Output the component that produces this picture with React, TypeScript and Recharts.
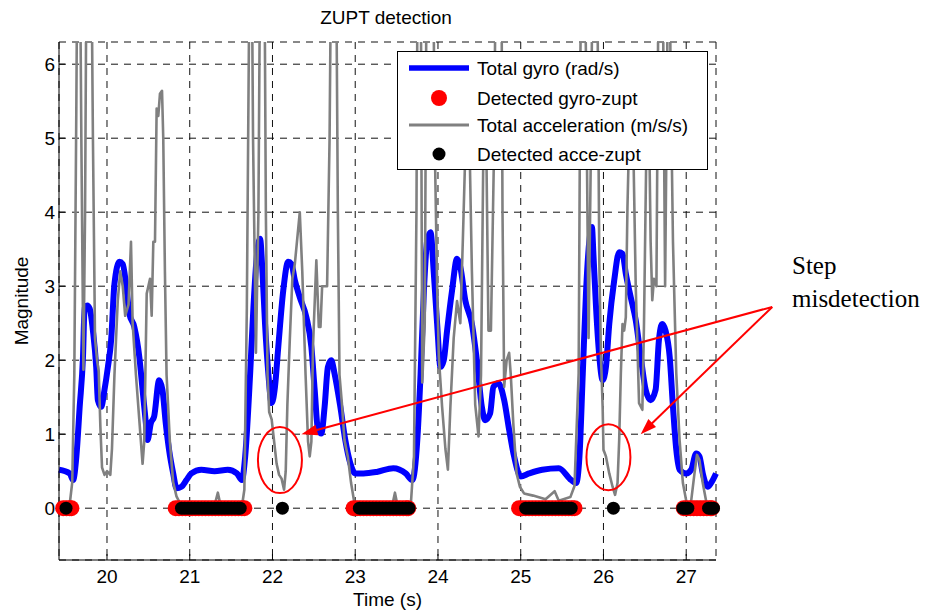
import {
  ComposedChart,
  Line,
  Scatter,
  XAxis,
  YAxis,
  CartesianGrid,
  Legend,
  ReferenceLine,
  ReferenceDot,
} from 'recharts'

// [time (s), magnitude]
const gyroSamples: [number, number][] = [
  [19.42, 0.52], [19.55, 0.47], [19.59, 0.38], [19.63, 0.7], [19.67, 1.37], [19.71, 2.05], [19.73, 2.72], [19.76, 2.74],
  [19.79, 2.7], [19.83, 2.4], [19.87, 1.9], [19.89, 1.46], [19.93, 1.37], [19.97, 1.6], [20.01, 1.9], [20.05, 2.27],
  [20.09, 3.03], [20.15, 3.33], [20.19, 3.3], [20.23, 3.03], [20.27, 2.63], [20.33, 2.45], [20.39, 2.05], [20.43, 1.6],
  [20.47, 1.15], [20.49, 0.92], [20.53, 1.15], [20.57, 1.24], [20.63, 1.73], [20.67, 1.6], [20.71, 1.15], [20.75, 0.79],
  [20.8, 0.47], [20.84, 0.27], [20.9, 0.29], [20.96, 0.38], [21.02, 0.47], [21.14, 0.52], [21.3, 0.5], [21.46, 0.52],
  [21.57, 0.47], [21.63, 0.38], [21.67, 0.7], [21.73, 1.82], [21.77, 2.72], [21.81, 3.4], [21.85, 3.64], [21.88, 3.17],
  [21.91, 2.49], [21.95, 1.82], [21.99, 1.42], [22.03, 1.64], [22.07, 2.18], [22.13, 2.94], [22.19, 3.33], [22.23, 3.3],
  [22.27, 3.08], [22.33, 2.85], [22.41, 2.58], [22.47, 2.18], [22.51, 1.6], [22.55, 1.06], [22.59, 1.01], [22.63, 1.37],
  [22.67, 1.91], [22.71, 2.0], [22.75, 1.82], [22.82, 1.37], [22.88, 0.92], [22.94, 0.61], [23.0, 0.47], [23.1, 0.47],
  [23.26, 0.49], [23.46, 0.54], [23.61, 0.47], [23.69, 0.38], [23.75, 0.92], [23.79, 1.82], [23.83, 2.94], [23.87, 3.62],
  [23.91, 3.73], [23.95, 3.17], [23.99, 2.49], [24.03, 1.91], [24.07, 2.0], [24.11, 2.4], [24.17, 2.94], [24.23, 3.37],
  [24.27, 3.26], [24.33, 2.81], [24.41, 2.49], [24.47, 2.0], [24.53, 1.37], [24.57, 1.19], [24.63, 1.28], [24.67, 1.64],
  [24.73, 1.69], [24.8, 1.46], [24.86, 1.06], [24.92, 0.7], [25.0, 0.43], [25.1, 0.47], [25.26, 0.52], [25.46, 0.54],
  [25.61, 0.38], [25.67, 0.34], [25.71, 0.7], [25.75, 1.82], [25.79, 2.94], [25.83, 3.62], [25.86, 3.8], [25.88, 3.4],
  [25.91, 2.72], [25.95, 2.05], [25.99, 1.73], [26.03, 1.91], [26.07, 2.49], [26.13, 3.08], [26.19, 3.46], [26.23, 3.44],
  [26.27, 3.17], [26.33, 2.85], [26.39, 2.54], [26.45, 2.05], [26.51, 1.6], [26.57, 1.46], [26.63, 1.6], [26.67, 2.27],
  [26.71, 2.49], [26.75, 2.4], [26.8, 2.05], [26.84, 1.37], [26.88, 0.79], [26.92, 0.52], [27.0, 0.47], [27.06, 0.52],
  [27.12, 0.74], [27.16, 0.7], [27.2, 0.47], [27.26, 0.29], [27.3, 0.34], [27.36, 0.47],
]

// peaks above the axis top are clipped, as in the original figure
const accSamples: [number, number][] = [
  [19.42, 0.02], [19.5, 0.03], [19.55, 0.06], [19.58, 0.35], [19.605, 1.8], [19.63, 5.5], [19.65, 9], [19.67, 8],
  [19.69, 5], [19.715, 1.87], [19.735, 4], [19.76, 9], [19.8, 9], [19.83, 5], [19.855, 2.3], [19.88, 2.0],
  [19.9, 1.85], [19.92, 1.1], [19.94, 0.55], [19.97, 0.45], [20.0, 0.5], [20.04, 0.45], [20.06, 0.8], [20.09, 1.8],
  [20.13, 2.8], [20.16, 3.2], [20.19, 3.0], [20.22, 2.6], [20.26, 2.75], [20.29, 3.6], [20.31, 2.5], [20.35, 1.8],
  [20.39, 1.2], [20.43, 0.6], [20.45, 0.9], [20.48, 2.9], [20.5, 3.0], [20.52, 3.1], [20.54, 2.6], [20.56, 3.6],
  [20.58, 3.6], [20.6, 5.4], [20.62, 5.3], [20.64, 5.6], [20.665, 5.64], [20.68, 5.0], [20.7, 3.2], [20.72, 1.8],
  [20.76, 0.9], [20.8, 0.35], [20.84, 0.16], [20.9, 0.03], [21.0, 0], [21.2, 0.02], [21.3, 0.04], [21.34, 0.21],
  [21.37, 0.05], [21.5, 0.03], [21.63, 0.02], [21.66, 0.25], [21.69, 2.7], [21.72, 7], [21.74, 9], [21.765, 5],
  [21.8, 2.1], [21.83, 4], [21.86, 9], [21.9, 8], [21.92, 4], [21.94, 1.8], [21.96, 1.3], [21.99, 1.2],
  [22.02, 0.9], [22.05, 0.6], [22.08, 0.45], [22.11, 0.4], [22.14, 0.25], [22.16, 0.5], [22.18, 1.4], [22.21, 2.3],
  [22.24, 3.1], [22.27, 3.3], [22.33, 4.0], [22.36, 3.2], [22.4, 1.8], [22.43, 0.9], [22.45, 0.7], [22.47, 0.9],
  [22.49, 2.2], [22.53, 3.35], [22.56, 2.45], [22.58, 2.45], [22.6, 3.0], [22.66, 3.0], [22.69, 5], [22.72, 9],
  [22.76, 9], [22.79, 4], [22.81, 1.8], [22.84, 1.4], [22.87, 0.92], [22.91, 0.7], [22.95, 0.34], [22.99, 0.07],
  [23.02, 0], [23.3, 0.03], [23.45, 0.05], [23.48, 0.21], [23.51, 0.04], [23.67, 0.02], [23.71, 0.7], [23.74, 4],
  [23.76, 9], [23.79, 8], [23.81, 1.7], [23.84, 2.5], [23.87, 9], [23.93, 9], [23.96, 5], [23.99, 3.0],
  [24.01, 2.05], [24.05, 1.37], [24.09, 0.8], [24.12, 0.52], [24.15, 1.37], [24.19, 2.3], [24.23, 2.8], [24.27, 2.5],
  [24.3, 3.6], [24.34, 5.2], [24.37, 5.6], [24.41, 3.2], [24.45, 1.4], [24.49, 0.97], [24.52, 1.8], [24.55, 5.0],
  [24.58, 5.3], [24.61, 2.4], [24.64, 2.4], [24.68, 5], [24.71, 9], [24.76, 9], [24.78, 4], [24.8, 1.64],
  [24.83, 2.0], [24.86, 2.1], [24.88, 1.8], [24.91, 1.15], [24.95, 0.47], [24.99, 0.29], [25.04, 0.2], [25.15, 0.17],
  [25.3, 0.12], [25.41, 0.23], [25.46, 0.1], [25.6, 0.15], [25.65, 0.3], [25.7, 1.82], [25.72, 6], [25.75, 9],
  [25.79, 6], [25.82, 2.3], [25.85, 5], [25.88, 9], [25.92, 8], [25.95, 3.3], [25.97, 2.05], [25.99, 1.37],
  [26.0, 0.79], [26.03, 0.7], [26.07, 0.47], [26.11, 0.29], [26.14, 0.18], [26.17, 0.34], [26.19, 0.92], [26.21, 1.82],
  [26.23, 2.49], [26.25, 2.4], [26.27, 2.58], [26.29, 4.07], [26.32, 5.5], [26.35, 5.6], [26.39, 3.0], [26.43, 1.42],
  [26.47, 1.33], [26.49, 2.5], [26.52, 5.0], [26.55, 5.3], [26.57, 3.6], [26.59, 2.81], [26.61, 3.1], [26.64, 3.0],
  [26.67, 8], [26.7, 9], [26.725, 6], [26.745, 3.0], [26.77, 6], [26.79, 9], [26.81, 6], [26.84, 3.6],
  [26.86, 2.7], [26.88, 1.82], [26.92, 0.92], [26.96, 0.34], [27.0, 0.1], [27.02, 0.02], [27.06, 0.1], [27.1, 0.47],
  [27.13, 0.72], [27.16, 0.65], [27.2, 0.34], [27.24, 0.1], [27.28, 0.02], [27.36, 0.02],
]

// instants flagged as zero-velocity (plotted at 0)
const gyroZuptTimes = [
  19.47, 19.51, 19.55, 19.57,
  20.83, 20.87, 20.91, 20.95, 20.99, 21.03, 21.07, 21.11, 21.15, 21.19, 21.23, 21.27, 21.31, 21.35, 21.39, 21.43,
  21.47, 21.51, 21.55, 21.59, 21.63, 21.66,
  22.98, 23.02, 23.06, 23.1, 23.14, 23.18, 23.22, 23.26, 23.3, 23.34, 23.38, 23.42, 23.46, 23.5, 23.54, 23.58,
  23.62, 23.64,
  24.98, 25.02, 25.06, 25.1, 25.14, 25.18, 25.22, 25.26, 25.3, 25.34, 25.38, 25.42, 25.46, 25.5, 25.54, 25.58,
  25.62, 25.65,
  26.97, 27.01, 27.05, 27.09, 27.13, 27.17, 27.21, 27.25, 27.29, 27.31,
]

const acceZuptTimes = [
  19.505,
  20.9, 20.94, 20.98, 21.02, 21.06, 21.1, 21.14, 21.18, 21.22, 21.26, 21.3, 21.34, 21.38, 21.42, 21.46, 21.5,
  21.54, 21.58, 21.61,
  22.12,
  23.05, 23.09, 23.13, 23.17, 23.21, 23.25, 23.29, 23.33, 23.37, 23.41, 23.45, 23.49, 23.53, 23.57, 23.61, 23.65,
  25.06, 25.1, 25.14, 25.18, 25.22, 25.26, 25.3, 25.34, 25.38, 25.42, 25.46, 25.5, 25.54, 25.58, 25.61,
  26.12,
  26.96, 26.99, 27.02, 27.27, 27.3, 27.33,
]

const timeTicks = [20, 21, 22, 23, 24, 25, 26, 27]
const magTicks = [0, 1, 2, 3, 4, 5, 6]
const timeDomain = [19.42, 27.36]
const magDomain = [-0.7, 6.3]

// "Step misdetection" callout, in data units
const arrowTail = { t: 28.04, v: 2.72 }
const arrowTips = [
  { t: 22.35, v: 1.0 },
  { t: 26.45, v: 1.0 },
]
const missCenters = [
  { t: 22.09, v: 0.65 },
  { t: 26.06, v: 0.69 },
]

const gyroData = gyroSamples.map(([t, v]) => ({ t, v }))
const accData = accSamples.map(([t, v]) => ({ t, v }))
const gyroZupt = gyroZuptTimes.map((t) => ({ t, v: 0 }))
const acceZupt = acceZuptTimes.map((t) => ({ t, v: 0 }))

const SANS = "'Liberation Sans', Arial, Helvetica, sans-serif"
const SERIF = "'Liberation Serif', 'Times New Roman', serif"
const BLUE = '#0000ff'
const RED = '#ff0000'
const GRAY = '#808080'

const legendItems = [
  { label: 'Total gyro (rad/s)', kind: 'line', color: BLUE, size: 5.5 },
  { label: 'Detected gyro-zupt', kind: 'dot', color: RED, size: 8 },
  { label: 'Total acceleration (m/s/s)', kind: 'line', color: GRAY, size: 2.8 },
  { label: 'Detected acce-zupt', kind: 'dot', color: '#000', size: 6.5 },
]

function LegendBox() {
  const rows = [17, 47, 74, 103]
  return (
    <svg width={311} height={119} style={{ display: 'block' }}>
      <rect x={0.5} y={0.5} width={310} height={118} fill="#fff" stroke="#000" strokeWidth={1} />
      {legendItems.map((it, i) => (
        <g key={it.label}>
          {it.kind === 'line' ? (
            <line x1={12} x2={72} y1={rows[i]} y2={rows[i]} stroke={it.color} strokeWidth={it.size} />
          ) : (
            <circle cx={42} cy={rows[i]} r={it.size} fill={it.color} />
          )}
          <text x={80} y={rows[i] + 7} fontSize={19} fontFamily={SANS} fill="#000">
            {it.label}
          </text>
        </g>
      ))}
    </svg>
  )
}

function Arrow(props: any) {
  const { x1, y1, x2, y2 } = props
  const dx = x2 - x1
  const dy = y2 - y1
  const len = Math.sqrt(dx * dx + dy * dy)
  const ux = dx / len
  const uy = dy / len
  const hl = 16
  const hw = 5.5
  const bx = x2 - ux * hl
  const by = y2 - uy * hl
  return (
    <g>
      <line x1={x1} y1={y1} x2={bx + ux * 3} y2={by + uy * 3} stroke={RED} strokeWidth={2} />
      <polygon
        points={`${x2},${y2} ${bx - uy * hw},${by + ux * hw} ${bx + uy * hw},${by - ux * hw}`}
        fill={RED}
      />
    </g>
  )
}

const tickStyle = { fill: '#000', fontSize: 19, fontFamily: SANS }

export default function App() {
  return (
    <div style={{ position: 'relative', width: 936, height: 613, background: '#fff' }}>
      <style>{`body{margin:0;background:#fff}`}</style>
      <ComposedChart width={936} height={613} margin={{ top: 42, right: 220, bottom: 0, left: 0 }}>
        <CartesianGrid strokeDasharray="7 6" stroke="#111" strokeWidth={1} />
        <XAxis
          dataKey="t"
          type="number"
          domain={timeDomain}
          ticks={timeTicks}
          interval={0}
          height={53}
          tickSize={-6}
          tickMargin={16}
          tick={tickStyle}
          stroke="#000"
          label={({ viewBox }: any) => (
            <text
              x={viewBox.x + viewBox.width / 2}
              y={viewBox.y + 46}
              textAnchor="middle"
              fontSize={19}
              fontFamily={SANS}
              fill="#000"
            >
              Time (s)
            </text>
          )}
        />
        <XAxis
          xAxisId="top"
          orientation="top"
          dataKey="t"
          type="number"
          domain={timeDomain}
          ticks={timeTicks}
          interval={0}
          height={0}
          tickSize={-6}
          tick={false}
          stroke="#000"
        />
        <YAxis
          type="number"
          domain={magDomain}
          ticks={magTicks}
          interval={0}
          allowDataOverflow
          width={59}
          tickSize={-6}
          tickMargin={10}
          tick={tickStyle}
          stroke="#000"
          label={({ viewBox }: any) => {
            const cx = viewBox.x + 22
            const cy = viewBox.y + viewBox.height / 2
            return (
              <text
                x={cx}
                y={cy + 6}
                transform={`rotate(-90 ${cx} ${cy})`}
                textAnchor="middle"
                fontSize={19}
                fontFamily={SANS}
                fill="#000"
              >
                Magnitude
              </text>
            )
          }}
        />
        <YAxis
          yAxisId="right"
          orientation="right"
          dataKey="v"
          type="number"
          domain={magDomain}
          ticks={magTicks}
          interval={0}
          width={0}
          tickSize={-6}
          tick={false}
          stroke="#000"
        />
        <Line
          data={gyroData}
          dataKey="v"
          type="monotone"
          stroke={BLUE}
          strokeWidth={6}
          strokeLinejoin="round"
          dot={false}
          activeDot={false}
          isAnimationActive={false}
        />
        <Line
          data={accData}
          dataKey="v"
          type="linear"
          stroke={GRAY}
          strokeWidth={2.6}
          strokeLinejoin="round"
          dot={false}
          activeDot={false}
          isAnimationActive={false}
        />
        <Scatter
          data={gyroZupt}
          dataKey="v"
          xAxisId="top"
          yAxisId="right"
          isAnimationActive={false}
          shape={(p: any) => <circle cx={p.cx} cy={p.cy} r={8} fill={RED} />}
        />
        <Scatter
          data={acceZupt}
          dataKey="v"
          xAxisId="top"
          yAxisId="right"
          isAnimationActive={false}
          shape={(p: any) => <circle cx={p.cx} cy={p.cy} r={6.5} fill="#000" />}
        />
        {missCenters.map((c, i) => (
          <ReferenceDot
            key={`e${i}`}
            x={c.t}
            y={c.v}
            shape={(p: any) => (
              <ellipse cx={p.cx} cy={p.cy} rx={22} ry={33} fill="none" stroke={RED} strokeWidth={2} />
            )}
          />
        ))}
        {arrowTips.map((tip, i) => (
          <ReferenceLine
            key={`a${i}`}
            ifOverflow="visible"
            segment={[
              { x: arrowTail.t, y: arrowTail.v },
              { x: tip.t, y: tip.v },
            ]}
            shape={Arrow}
          />
        ))}
        <Legend
          layout="vertical"
          align="center"
          verticalAlign="middle"
          wrapperStyle={{ left: 397, top: 51, width: 311, height: 119 }}
          content={() => <LegendBox />}
        />
      </ComposedChart>
      <svg
        width={936}
        height={613}
        style={{ position: 'absolute', left: 0, top: 0, pointerEvents: 'none' }}
      >
        <text x={386} y={24} textAnchor="middle" fontSize={19} fontFamily={SANS} fill="#000">
          ZUPT detection
        </text>
        <text x={792} y={274} fontSize={25} fontFamily={SERIF} fill="#000">
          Step
        </text>
        <text x={792} y={307} fontSize={25} fontFamily={SERIF} fill="#000">
          misdetection
        </text>
      </svg>
    </div>
  )
}
